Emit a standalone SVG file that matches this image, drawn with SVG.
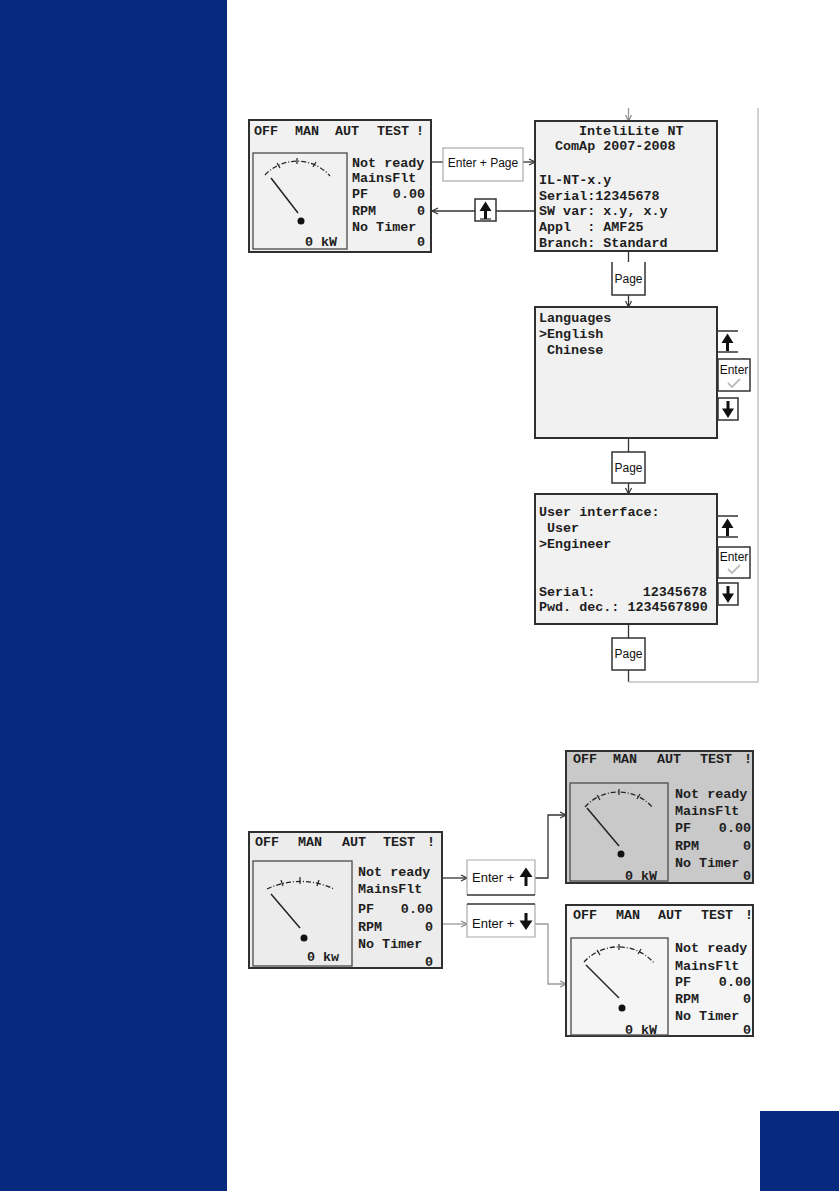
<svg xmlns="http://www.w3.org/2000/svg" width="839" height="1191" viewBox="0 0 839 1191">
<defs>
<style>
.lcd{font-family:"Liberation Mono","DejaVu Sans Mono",monospace;font-size:13.4px;font-weight:bold;fill:#1e1e1e;white-space:pre}
.btn{font-family:"Liberation Sans",Arial,sans-serif;font-size:12px;fill:#111}
.scr{stroke:#303030;stroke-width:2}
.gbox{fill:none;stroke:#555;stroke-width:1.4}
.arc{fill:none;stroke:#222;stroke-width:1.3;stroke-dasharray:5 2 1 2}
.needle{stroke:#222;stroke-width:1.5}
.tick{stroke:#222;stroke-width:1.2}
.ln{fill:none;stroke:#333;stroke-width:1.3}
.lg{fill:none;stroke:#999;stroke-width:1.3}
.lgl{fill:none;stroke:#c4c4c4;stroke-width:1.5}
.box{fill:#fff;stroke:#333;stroke-width:1.5}
.boxl{fill:#fff;stroke:#aaa;stroke-width:1.2}
.ico{fill:#111}
.chk{fill:none;stroke:#bbb;stroke-width:1.8}
</style>
<marker id="ah" viewBox="0 0 8 8" refX="7" refY="4" markerWidth="8" markerHeight="8" markerUnits="userSpaceOnUse" orient="auto">
<path d="M1,1 L7,4 L1,7" fill="none" stroke="#333" stroke-width="1.2"/>
</marker>
<marker id="ahg" viewBox="0 0 8 8" refX="7" refY="4" markerWidth="8" markerHeight="8" markerUnits="userSpaceOnUse" orient="auto">
<path d="M1,1 L7,4 L1,7" fill="none" stroke="#888" stroke-width="1.2"/>
</marker>
</defs>

<rect x="0" y="0" width="227" height="1191" fill="#052a7e"/>
<rect x="760" y="1111" width="79" height="80" fill="#052a7e"/>

<g id="connectors">
<path class="ln" d="M431,162 H443"/>
<path class="ln" d="M523,162 H535" marker-end="url(#ah)"/>
<path class="ln" d="M535,211 H496"/>
<path class="ln" d="M475,211 H432" marker-end="url(#ah)"/>
<path class="lg" d="M628.5,108 V121" marker-end="url(#ahg)"/>
<path class="ln" d="M628.5,251 V262"/>
<path class="ln" d="M628.5,295 V307" marker-end="url(#ah)"/>
<path class="ln" d="M628.5,438 V452"/>
<path class="ln" d="M628.5,483 V494" marker-end="url(#ah)"/>
<path class="ln" d="M628.5,624 V638"/>
<path class="ln" d="M628.5,670 V682"/>
<path class="lgl" d="M628.5,682 H758 V108"/>
<path class="ln" d="M442,878 H467" marker-end="url(#ah)"/>
<path class="ln" d="M535,878 H548 V815 H566" marker-end="url(#ah)"/>
<path class="lg" d="M442,924 H467" marker-end="url(#ahg)"/>
<path class="lg" d="M535,924 H548 V984 H566" marker-end="url(#ahg)"/>
</g>

<g id="screen-main">
<rect class="scr" x="249" y="120" width="182" height="132" fill="#f1f1f1"/>
<text class="lcd" x="254" y="135">OFF</text>
<text class="lcd" x="295" y="135">MAN</text>
<text class="lcd" x="335" y="135">AUT</text>
<text class="lcd" x="377" y="135">TEST</text>
<text class="lcd" x="416" y="135">!</text>
<rect class="gbox" x="253" y="153" width="94" height="96"/>
<path class="arc" d="M265,175 A44,44 0 0 1 330,176"/>
<path class="tick" d="M297,158 V164 M277,163 L280,168 M316,162 L313,167"/>
<path class="needle" d="M271,178 L298,213"/>
<circle cx="301" cy="221" r="3.5" fill="#111"/>
<text class="lcd" x="305" y="246">0 kW</text>
<text class="lcd" x="352" y="167">Not ready</text>
<text class="lcd" x="352" y="182">MainsFlt</text>
<text class="lcd" x="352" y="198">PF</text>
<text class="lcd" x="425" y="198" text-anchor="end">0.00</text>
<text class="lcd" x="352" y="215">RPM</text>
<text class="lcd" x="425" y="215" text-anchor="end">0</text>
<text class="lcd" x="352" y="231">No Timer</text>
<text class="lcd" x="425" y="246" text-anchor="end">0</text>
</g>

<g id="btn-enter-page">
<rect class="boxl" x="443" y="148" width="80" height="33" stroke="#888"/>
<text class="btn" x="483" y="167" text-anchor="middle">Enter + Page</text>
</g>

<g id="btn-up-back">
<rect class="box" x="475" y="199" width="21" height="22"/>
<path class="ico" d="M485.5,201.5 L491.5,211 L479.5,211 Z M484,211 H487 V219 H484 Z"/>
<path class="tick" d="M480,219 H491"/>
</g>

<g id="screen-info">
<rect class="scr" x="535" y="121" width="182" height="130" fill="#f1f1f1"/>
<text class="lcd" x="579" y="135">InteliLite NT</text>
<text class="lcd" x="555" y="150">ComAp 2007-2008</text>
<text class="lcd" x="539" y="184">IL-NT-x.y</text>
<text class="lcd" x="539" y="200">Serial:12345678</text>
<text class="lcd" x="539" y="215">SW var: x.y, x.y</text>
<text class="lcd" x="539" y="231" xml:space="preserve">Appl  : AMF25</text>
<text class="lcd" x="539" y="247">Branch: Standard</text>
</g>

<g id="btn-page-1">
<path class="box" d="M612,262 V295 H645 V262"/>
<text class="btn" x="628.5" y="283" text-anchor="middle">Page</text>
</g>

<g id="screen-languages">
<rect class="scr" x="535" y="307" width="182" height="131" fill="#f1f1f1"/>
<text class="lcd" x="539" y="322">Languages</text>
<text class="lcd" x="539" y="338">&gt;English</text>
<text class="lcd" x="547" y="354">Chinese</text>
</g>

<g id="btns-languages">
<path class="ln" d="M717,331 H738 M717,352 H738"/>
<path class="ico" d="M727.5,333.5 L733.5,343 L721.5,343 Z M726,343 H729 V351 H726 Z"/>
<rect class="box" x="718" y="359" width="32" height="32"/>
<text class="btn" x="734" y="374" text-anchor="middle">Enter</text>
<path class="chk" d="M728,383 L732,387 L740,379"/>
<rect class="box" x="718" y="398" width="20" height="22"/>
<path class="ico" d="M726.5,401 H729.5 V409 H726.5 Z M722,408.5 L734,408.5 L728,418 Z"/>
</g>

<g id="btn-page-2">
<rect class="box" x="612" y="452" width="33" height="31"/>
<text class="btn" x="628.5" y="472" text-anchor="middle">Page</text>
</g>

<g id="screen-user-interface">
<rect class="scr" x="535" y="494" width="182" height="130" fill="#f1f1f1"/>
<text class="lcd" x="539" y="516">User interface:</text>
<text class="lcd" x="547" y="532">User</text>
<text class="lcd" x="539" y="548">&gt;Engineer</text>
<text class="lcd" x="539" y="596">Serial:</text>
<text class="lcd" x="707" y="596" text-anchor="end">12345678</text>
<text class="lcd" x="539" y="611">Pwd. dec.: 1234567890</text>
</g>

<g id="btns-user-interface">
<path class="ln" d="M717,516 H738 M717,537 H738"/>
<path class="ico" d="M727.5,518.5 L733.5,528 L721.5,528 Z M726,528 H729 V536 H726 Z"/>
<rect class="box" x="718" y="547" width="32" height="31"/>
<text class="btn" x="734" y="561" text-anchor="middle">Enter</text>
<path class="chk" d="M728,569 L732,573 L740,565"/>
<rect class="box" x="718" y="583" width="20" height="22"/>
<path class="ico" d="M726.5,586 H729.5 V594 H726.5 Z M722,593.5 L734,593.5 L728,603 Z"/>
</g>

<g id="btn-page-3">
<rect class="box" x="612" y="638" width="33" height="32"/>
<text class="btn" x="628.5" y="658" text-anchor="middle">Page</text>
</g>

<g id="screen-bottom-left">
<rect class="scr" x="249" y="832" width="193" height="136" fill="#ececec"/>
<text class="lcd" x="255" y="846">OFF</text>
<text class="lcd" x="298" y="846">MAN</text>
<text class="lcd" x="342" y="846">AUT</text>
<text class="lcd" x="383" y="846">TEST</text>
<text class="lcd" x="427" y="846">!</text>
<rect class="gbox" x="253" y="861" width="99" height="105"/>
<path class="arc" d="M267,889 A78,78 0 0 1 334,889"/>
<path class="tick" d="M300,877 V884 M281,880 L283,886 M319,880 L317,886"/>
<path class="needle" d="M271,894 L300,928"/>
<circle cx="304" cy="938" r="3.5" fill="#111"/>
<text class="lcd" x="307" y="961">0 kw</text>
<text class="lcd" x="358" y="876">Not ready</text>
<text class="lcd" x="358" y="893">MainsFlt</text>
<text class="lcd" x="358" y="913">PF</text>
<text class="lcd" x="433" y="913" text-anchor="end">0.00</text>
<text class="lcd" x="358" y="931">RPM</text>
<text class="lcd" x="433" y="931" text-anchor="end">0</text>
<text class="lcd" x="358" y="948">No Timer</text>
<text class="lcd" x="433" y="966" text-anchor="end">0</text>
</g>

<g id="btn-enter-up">
<path class="boxl" d="M467,895 V860 H535 V895"/>
<path class="ln" d="M467,895 H535"/>
<text class="btn" x="472" y="882" style="font-size:13px">Enter +</text>
<path class="ico" d="M526,867.5 L532.5,877 L519.5,877 Z M524.5,877 H527.5 V886 H524.5 Z"/>
</g>

<g id="btn-enter-down">
<path class="boxl" d="M467,904 V937 H535 V904"/>
<path class="ln" d="M467,904 H535"/>
<text class="btn" x="472" y="928" style="font-size:13px">Enter +</text>
<path class="ico" d="M524.5,913 H527.5 V921 H524.5 Z M519.5,920.5 L532.5,920.5 L526,930 Z"/>
</g>

<g id="screen-bottom-right-1">
<rect class="scr" x="566" y="751" width="187" height="132" fill="#c9c9c9"/>
<text class="lcd" x="573" y="763">OFF</text>
<text class="lcd" x="613" y="763">MAN</text>
<text class="lcd" x="657" y="763">AUT</text>
<text class="lcd" x="700" y="763">TEST</text>
<text class="lcd" x="744" y="763">!</text>
<rect class="gbox" x="570" y="783" width="98" height="98"/>
<path class="arc" d="M585,807 A45,45 0 0 1 653,808"/>
<path class="tick" d="M619,789 V795 M597,795 L600,800 M640,794 L637,799"/>
<path class="needle" d="M587,808 L619,846"/>
<circle cx="621" cy="854" r="3.5" fill="#111"/>
<text class="lcd" x="625" y="880">0 kW</text>
<text class="lcd" x="675" y="798">Not ready</text>
<text class="lcd" x="675" y="815">MainsFlt</text>
<text class="lcd" x="675" y="832">PF</text>
<text class="lcd" x="751" y="832" text-anchor="end">0.00</text>
<text class="lcd" x="675" y="850">RPM</text>
<text class="lcd" x="751" y="850" text-anchor="end">0</text>
<text class="lcd" x="675" y="867">No Timer</text>
<text class="lcd" x="751" y="880" text-anchor="end">0</text>
</g>

<g id="screen-bottom-right-2">
<rect class="scr" x="566" y="905" width="187" height="131" fill="#f5f5f5"/>
<text class="lcd" x="573" y="919">OFF</text>
<text class="lcd" x="616" y="919">MAN</text>
<text class="lcd" x="658" y="919">AUT</text>
<text class="lcd" x="701" y="919">TEST</text>
<text class="lcd" x="745" y="919">!</text>
<rect class="gbox" x="571" y="938" width="97" height="97"/>
<path class="arc" d="M584,962 A47,47 0 0 1 654,963"/>
<path class="tick" d="M619,944 V950 M597,950 L600,955 M641,949 L638,954"/>
<path class="needle" d="M586,965 L619,998"/>
<circle cx="622" cy="1008" r="3.5" fill="#111"/>
<text class="lcd" x="625" y="1034">0 kW</text>
<text class="lcd" x="675" y="952">Not ready</text>
<text class="lcd" x="675" y="970">MainsFlt</text>
<text class="lcd" x="675" y="986">PF</text>
<text class="lcd" x="751" y="986" text-anchor="end">0.00</text>
<text class="lcd" x="675" y="1003">RPM</text>
<text class="lcd" x="751" y="1003" text-anchor="end">0</text>
<text class="lcd" x="675" y="1020">No Timer</text>
<text class="lcd" x="751" y="1034" text-anchor="end">0</text>
</g>
</svg>
